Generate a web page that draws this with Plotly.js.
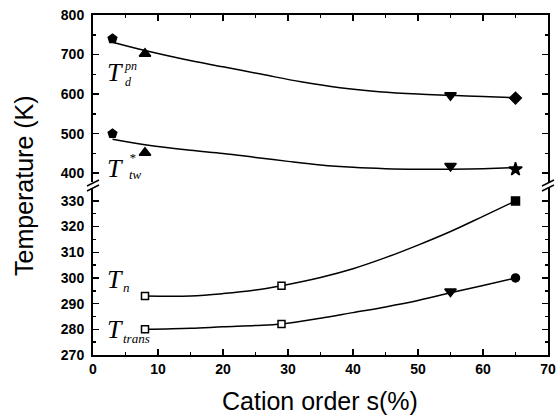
<!DOCTYPE html>
<html><head><meta charset="utf-8">
<script src="https://cdn.plot.ly/plotly-3.0.1.min.js"></script>
<style>html,body{margin:0;padding:0;background:#fff}#chart{width:560px;height:417px}</style>
</head><body><div id="chart"></div>
<script>
// ---- data ----
const tdpnS = [3, 8, 55, 65];
const tdpnT = [740, 702, 597, 590];
const tdpnFitS = [3, 8, 14, 20, 26, 32, 38, 44, 50, 55, 60, 65];
const tdpnFitT = [731, 710, 688, 669, 650, 631, 616, 606, 600, 597, 594, 591];

const ttwS = [3, 8, 55, 65];
const ttwT = [500, 452, 418, 410];
const ttwFitS = [3, 8, 15, 20, 25, 30, 35, 40, 45, 50, 55, 60, 65];
const ttwFitT = [486, 472, 458, 450, 440, 430, 421, 415, 411.5, 410, 410, 411.5, 414];

const tnS = [8, 29, 65];
const tnT = [293, 297, 330];
const tnFitS = [8, 15, 20, 25, 29, 35, 40, 45, 50, 55, 60, 65];
const tnFitT = [293, 293, 293.9, 295.3, 297, 300.2, 303.6, 307.9, 312.8, 318.1, 324, 330];

const ttransS = [8, 29, 55, 65];
const ttransT = [280, 282.1, 294.7, 300];
const ttransFitS = [8, 15, 20, 25, 29, 35, 40, 45, 50, 55, 60, 65];
const ttransFitT = [280, 280.4, 281, 281.5, 282.1, 284.3, 286.5, 288.7, 291.2, 294.2, 297.1, 300];

const xTicks = [0, 10, 20, 30, 40, 50, 60, 70];
const yLowTicks = [270, 280, 290, 300, 310, 320, 330];
const yHighTicks = [400, 500, 600, 700, 800];

const xTitle = 'Cation order s(%)';
const yTitle = 'Temperature (K)';

// ---- geometry helpers (pixel -> paper) ----
const L = 93, R = 548, TOP = 15, B = 355;
const px = x => (x - L) / (R - L);
const py = y => (B - y) / (B - TOP);

const tickFont = {family: 'Liberation Sans, Arial, sans-serif', size: 14, color: '#000'};
const bold = v => '<b>' + v + '</b>';

function fitTrace(xs, ys, xa, ya) {
  return {x: xs, y: ys, xaxis: xa, yaxis: ya, mode: 'lines', type: 'scatter', opacity: 1,
          line: {color: '#000', width: 1.5, shape: 'spline', smoothing: 1}, hoverinfo: 'skip'};
}
function markTrace(xs, ys, xa, ya, symbols, colors, sizes) {
  return {x: xs, y: ys, xaxis: xa, yaxis: ya, mode: 'markers', type: 'scatter', opacity: 1,
          marker: {symbol: symbols, color: colors, size: sizes, opacity: 1, line: {color: '#000', width: 1.5}}};
}

const traces = [
  fitTrace(tdpnFitS, tdpnFitT, 'x2', 'y2'),
  fitTrace(ttwFitS, ttwFitT, 'x2', 'y2'),
  fitTrace(tnFitS, tnFitT, 'x', 'y'),
  fitTrace(ttransFitS, ttransFitT, 'x', 'y'),
  markTrace(tdpnS, tdpnT, 'x2', 'y2', ['pentagon', 'triangle-up', 'triangle-down', 'diamond'], ['#000', '#000', '#000', '#000'], [9, 10, 10, 9]),
  markTrace(ttwS, ttwT, 'x2', 'y2', ['pentagon', 'triangle-up', 'triangle-down', 'star'], ['#000', '#000', '#000', '#000'], [9, 10, 10, 10]),
  markTrace(tnS, tnT, 'x', 'y', ['square', 'square', 'square'], ['#fff', '#fff', '#000'], [7, 7, 8]),
  markTrace(ttransS, ttransT, 'x', 'y', ['square', 'square', 'triangle-down', 'circle'], ['#fff', '#fff', '#000', '#000'], [7, 7, 10, 8])
];

const axisCommon = {
  showline: true, linecolor: '#000', linewidth: 2, showgrid: false, zeroline: false,
  ticks: 'inside', ticklen: 6, tickwidth: 1.5, tickcolor: '#000', tickfont: tickFont, tickmode: 'array'
};
const minorX = {dtick: 5, ticks: 'inside', ticklen: 3, tickwidth: 1.5, tickcolor: '#000', showgrid: false, tickmode: 'linear', tick0: 0};

const serif = {family: 'Liberation Serif, Times New Roman, serif', color: '#000', style: 'italic'};
function lab(text, x, y, size, anchor) {
  return {text: text, xref: 'paper', yref: 'paper', x: px(x), y: py(y), showarrow: false, align: 'left',
          xanchor: anchor || 'center', yanchor: 'middle', font: Object.assign({size: size}, serif)};
}

const annotations = [
  {text: yTitle, xref: 'paper', yref: 'paper', x: px(24), y: py(186), showarrow: false, textangle: -90,
   xanchor: 'center', yanchor: 'middle', font: {family: 'Liberation Sans, Arial, sans-serif', size: 25, color: '#000'}},
  {text: xTitle, xref: 'paper', yref: 'paper', x: px(320), y: py(401), showarrow: false,
   xanchor: 'center', yanchor: 'middle', font: {family: 'Liberation Sans, Arial, sans-serif', size: 25, color: '#000'}},
  lab('T', 115, 73, 26), lab('pn<br>d', 122, 74, 12, 'left'),
  lab('T', 115, 169, 26), lab('*<br>tw', 127, 166, 13, 'left'),
  lab('T', 115, 279, 26), lab('n', 126, 287, 13),
  lab('T', 115, 329, 26), lab('trans', 136, 338, 13)
];

const brk = (x0, y0, x1, y1) => ({type: 'line', xref: 'paper', yref: 'paper',
  x0: px(x0), y0: py(y0), x1: px(x1), y1: py(y1), line: {color: '#000', width: 1.5}});
const shapes = [
  brk(87, 186, 99, 180), brk(87, 191, 99, 185),
  brk(542, 186, 554, 180), brk(542, 191, 554, 185)
];

const layout = {
  width: 560, height: 417,
  margin: {l: L, r: 560 - R, t: TOP, b: 417 - B, pad: 0},
  paper_bgcolor: '#fff', plot_bgcolor: '#fff', showlegend: false,
  xaxis: Object.assign({}, axisCommon, {domain: [0, 1], range: [0, 70], tickvals: xTicks, ticktext: xTicks.map(bold),
    anchor: 'y', mirror: false, minor: minorX}),
  xaxis2: Object.assign({}, axisCommon, {domain: [0, 1], matches: 'x', range: [0, 70], tickvals: xTicks, anchor: 'y2', side: 'top',
    showticklabels: false, mirror: false, minor: minorX}),
  yaxis: Object.assign({}, axisCommon, {domain: [0, 0.491], range: [270, 335], tickvals: yLowTicks, ticktext: yLowTicks.map(bold),
    anchor: 'x', mirror: 'ticks', ticklabelstandoff: 4,
    minor: {dtick: 5, tick0: 0, tickmode: 'linear', ticks: 'inside', ticklen: 3, tickwidth: 1.5, tickcolor: '#000', showgrid: false}}),
  yaxis2: Object.assign({}, axisCommon, {domain: [0.509, 1], range: [378, 800], tickvals: yHighTicks, ticktext: yHighTicks.map(bold),
    anchor: 'x2', mirror: 'ticks', ticklabelstandoff: 4,
    minor: {dtick: 50, tick0: 0, tickmode: 'linear', ticks: 'inside', ticklen: 3, tickwidth: 1.5, tickcolor: '#000', showgrid: false}}),
  annotations: annotations,
  shapes: shapes
};

Plotly.newPlot('chart', traces, layout, {staticPlot: true, displayModeBar: false});
</script>
</body></html>
